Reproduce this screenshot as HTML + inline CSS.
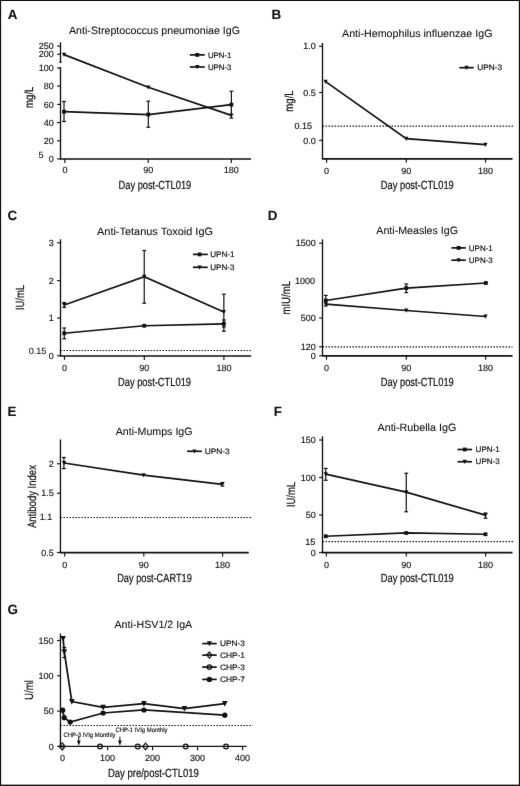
<!DOCTYPE html>
<html><head><meta charset="utf-8"><title>Figure</title>
<style>
html,body{margin:0;padding:0;background:#fff;}
body{width:520px;height:786px;overflow:hidden;position:relative;}
svg{position:absolute;left:0;top:0;}
svg text{text-rendering:geometricPrecision;font-family:"Liberation Sans", sans-serif;fill:#111;stroke:#111;stroke-width:0.08;}
</style></head><body>
<svg width="520" height="786" viewBox="0 0 520 786" stroke="#111" fill="#111">
<defs><filter id="bl" x="0" y="0" width="520" height="786" filterUnits="userSpaceOnUse" color-interpolation-filters="sRGB"><feConvolveMatrix order="3" kernelMatrix="0.00276 0.04704 0.00276 0.04704 0.80077 0.04704 0.00276 0.04704 0.00276" edgeMode="duplicate" preserveAlpha="true"/></filter></defs>
<g filter="url(#bl)">
<rect x="0" y="0" width="520" height="786" fill="#fff" stroke="none"/>
<text x="7.8" y="18.6" font-size="13.4" font-weight="bold" fill="#000">A</text>
<text x="69" y="33.7" font-size="10.6" textLength="171" lengthAdjust="spacingAndGlyphs">Anti-Streptococcus pneumoniae IgG</text>
<line x1="60.5" y1="42.3" x2="60.5" y2="62.2" stroke-width="1.35"/>
<line x1="59.2" y1="62.2" x2="61.8" y2="62.2" stroke-width="1.15"/>
<line x1="60.5" y1="67.1" x2="60.5" y2="159" stroke-width="1.35"/>
<line x1="59.83" y1="159" x2="251" y2="159" stroke-width="1.7"/>
<line x1="57.1" y1="46.1" x2="60.5" y2="46.1" stroke-width="1.15"/>
<text x="53.7" y="49.3" font-size="9" style="stroke-width:0.14" text-anchor="end">250</text>
<line x1="57.1" y1="54.3" x2="60.5" y2="54.3" stroke-width="1.15"/>
<text x="53.7" y="57.49" font-size="9" style="stroke-width:0.14" text-anchor="end">200</text>
<line x1="57.1" y1="68" x2="60.5" y2="68" stroke-width="1.15"/>
<text x="53.7" y="71.19" font-size="9" style="stroke-width:0.14" text-anchor="end">100</text>
<line x1="57.1" y1="86.1" x2="60.5" y2="86.1" stroke-width="1.15"/>
<text x="53.7" y="89.29" font-size="9" style="stroke-width:0.14" text-anchor="end">80</text>
<line x1="57.1" y1="104.4" x2="60.5" y2="104.4" stroke-width="1.15"/>
<text x="53.7" y="107.59" font-size="9" style="stroke-width:0.14" text-anchor="end">60</text>
<line x1="57.1" y1="122.6" x2="60.5" y2="122.6" stroke-width="1.15"/>
<text x="53.7" y="125.79" font-size="9" style="stroke-width:0.14" text-anchor="end">40</text>
<line x1="57.1" y1="140.8" x2="60.5" y2="140.8" stroke-width="1.15"/>
<text x="53.7" y="144" font-size="9" style="stroke-width:0.14" text-anchor="end">20</text>
<line x1="57.1" y1="159" x2="60.5" y2="159" stroke-width="1.15"/>
<text x="53.7" y="162.19" font-size="9" style="stroke-width:0.14" text-anchor="end">0</text>
<text x="41" y="157.79" font-size="9" text-anchor="middle">5</text>
<line x1="64.9" y1="159" x2="64.9" y2="162.9" stroke-width="1.15"/>
<text x="64.9" y="173.09" font-size="9" style="stroke-width:0.14" text-anchor="middle">0</text>
<line x1="148.2" y1="159" x2="148.2" y2="162.9" stroke-width="1.15"/>
<text x="148.2" y="173.09" font-size="9" style="stroke-width:0.14" text-anchor="middle">90</text>
<line x1="231.3" y1="159" x2="231.3" y2="162.9" stroke-width="1.15"/>
<text x="231.3" y="173.09" font-size="9" style="stroke-width:0.14" text-anchor="middle">180</text>
<text transform="translate(32.5 97.3) rotate(-90)" x="0" y="0" font-size="11.8" style="stroke-width:0.22" text-anchor="middle" textLength="21.4" lengthAdjust="spacingAndGlyphs">mg/L</text>
<text x="118.6" y="188.6" font-size="11.8" style="stroke-width:0.22" textLength="72.6" lengthAdjust="spacingAndGlyphs">Day post-CTL019</text>
<line x1="189.8" y1="54.9" x2="204.7" y2="54.9" stroke-width="1.7"/>
<rect x="195.35" y="53" width="3.8" height="3.8" fill="#111" stroke="none"/>
<text x="207.9" y="57.63" font-size="7.9" style="stroke-width:0.18" textLength="23.6" lengthAdjust="spacingAndGlyphs">UPN-1</text>
<line x1="189.8" y1="67" x2="204.7" y2="67" stroke-width="1.7"/>
<polygon points="195.15,65.11 199.35,65.11 197.25,69.31" fill="#111" stroke="none"/>
<text x="207.9" y="69.73" font-size="7.9" style="stroke-width:0.18" textLength="23.6" lengthAdjust="spacingAndGlyphs">UPN-3</text>
<line x1="64" y1="101.5" x2="64" y2="121.5" stroke-width="1.2"/>
<line x1="62.1" y1="101.5" x2="65.9" y2="101.5" stroke-width="1.2"/>
<line x1="62.1" y1="121.5" x2="65.9" y2="121.5" stroke-width="1.2"/>
<line x1="148.3" y1="101.2" x2="148.3" y2="127.3" stroke-width="1.2"/>
<line x1="146.4" y1="101.2" x2="150.2" y2="101.2" stroke-width="1.2"/>
<line x1="146.4" y1="127.3" x2="150.2" y2="127.3" stroke-width="1.2"/>
<line x1="231.4" y1="91.2" x2="231.4" y2="118.1" stroke-width="1.2"/>
<line x1="229.5" y1="91.2" x2="233.3" y2="91.2" stroke-width="1.2"/>
<line x1="229.5" y1="118.1" x2="233.3" y2="118.1" stroke-width="1.2"/>
<polyline points="64,111.7 148.3,114.5 231.4,104.6" fill="none" stroke-width="1.75" stroke-linejoin="miter"/>
<rect x="62.1" y="109.8" width="3.8" height="3.8" fill="#111" stroke="none"/>
<rect x="146.4" y="112.6" width="3.8" height="3.8" fill="#111" stroke="none"/>
<rect x="229.5" y="102.7" width="3.8" height="3.8" fill="#111" stroke="none"/>
<polyline points="64,54.6 148.3,87.3 231.4,115.4" fill="none" stroke-width="1.75" stroke-linejoin="miter"/>
<polygon points="61.9,52.71 66.1,52.71 64,56.91" fill="#111" stroke="none"/>
<polygon points="146.2,85.41 150.4,85.41 148.3,89.61" fill="#111" stroke="none"/>
<polygon points="229.3,113.51 233.5,113.51 231.4,117.71" fill="#111" stroke="none"/>
<text x="271.4" y="18.6" font-size="13.4" font-weight="bold" fill="#000">B</text>
<text x="342" y="37.3" font-size="10.6" textLength="150.5" lengthAdjust="spacingAndGlyphs">Anti-Hemophilus influenzae IgG</text>
<line x1="322.5" y1="43" x2="322.5" y2="158.9" stroke-width="1.35"/>
<line x1="321.82" y1="158.9" x2="512.5" y2="158.9" stroke-width="1.7"/>
<line x1="319.1" y1="46.25" x2="322.5" y2="46.25" stroke-width="1.15"/>
<text x="315.7" y="49.45" font-size="9" style="stroke-width:0.14" text-anchor="end">1.0</text>
<line x1="319.1" y1="92.5" x2="322.5" y2="92.5" stroke-width="1.15"/>
<text x="315.7" y="95.69" font-size="9" style="stroke-width:0.14" text-anchor="end">0.5</text>
<text x="312" y="129.44" font-size="9" style="stroke-width:0.14" text-anchor="end">0.15</text>
<line x1="319.1" y1="140.3" x2="322.5" y2="140.3" stroke-width="1.15"/>
<text x="315.7" y="143.5" font-size="9" style="stroke-width:0.14" text-anchor="end">0.0</text>
<line x1="322.5" y1="126.1" x2="513" y2="126.1" stroke-width="1.2" stroke-dasharray="1.5 1.5"/>
<line x1="326.6" y1="158.9" x2="326.6" y2="162.8" stroke-width="1.15"/>
<text x="326.6" y="174" font-size="9" style="stroke-width:0.14" text-anchor="middle">0</text>
<line x1="406.3" y1="158.9" x2="406.3" y2="162.8" stroke-width="1.15"/>
<text x="406.3" y="174" font-size="9" style="stroke-width:0.14" text-anchor="middle">90</text>
<line x1="485.6" y1="158.9" x2="485.6" y2="162.8" stroke-width="1.15"/>
<text x="485.6" y="174" font-size="9" style="stroke-width:0.14" text-anchor="middle">180</text>
<text transform="translate(293.4 101) rotate(-90)" x="0" y="0" font-size="11.8" style="stroke-width:0.22" text-anchor="middle" textLength="21.4" lengthAdjust="spacingAndGlyphs">mg/L</text>
<text x="380.8" y="188.7" font-size="11.8" style="stroke-width:0.22" textLength="73" lengthAdjust="spacingAndGlyphs">Day post-CTL019</text>
<line x1="459.3" y1="67.7" x2="473.75" y2="67.7" stroke-width="1.7"/>
<polygon points="464.42,65.81 468.62,65.81 466.52,70.01" fill="#111" stroke="none"/>
<text x="477.2" y="70.43" font-size="7.9" style="stroke-width:0.18" textLength="24.8" lengthAdjust="spacingAndGlyphs">UPN-3</text>
<polyline points="325.6,81.6 406.25,138.6 485.5,144.6" fill="none" stroke-width="1.75" stroke-linejoin="miter"/>
<polygon points="323.5,79.71 327.7,79.71 325.6,83.91" fill="#111" stroke="none"/>
<polygon points="404.15,136.71 408.35,136.71 406.25,140.91" fill="#111" stroke="none"/>
<polygon points="483.4,142.71 487.6,142.71 485.5,146.91" fill="#111" stroke="none"/>
<text x="7.6" y="219.6" font-size="13.4" font-weight="bold" fill="#000">C</text>
<text x="97" y="234.5" font-size="10.6" textLength="116" lengthAdjust="spacingAndGlyphs">Anti-Tetanus Toxoid IgG</text>
<line x1="60.5" y1="239.3" x2="60.5" y2="356" stroke-width="1.35"/>
<line x1="59.83" y1="356" x2="251.25" y2="356" stroke-width="1.7"/>
<line x1="57.1" y1="242.75" x2="60.5" y2="242.75" stroke-width="1.15"/>
<text x="53.7" y="245.94" font-size="9" style="stroke-width:0.14" text-anchor="end">3</text>
<line x1="57.1" y1="280.6" x2="60.5" y2="280.6" stroke-width="1.15"/>
<text x="53.7" y="283.8" font-size="9" style="stroke-width:0.14" text-anchor="end">2</text>
<line x1="57.1" y1="318.1" x2="60.5" y2="318.1" stroke-width="1.15"/>
<text x="53.7" y="321.3" font-size="9" style="stroke-width:0.14" text-anchor="end">1</text>
<line x1="57.1" y1="355.75" x2="60.5" y2="355.75" stroke-width="1.15"/>
<text x="53.7" y="358.94" font-size="9" style="stroke-width:0.14" text-anchor="end">0</text>
<text x="46.4" y="353.69" font-size="9" text-anchor="end">0.15</text>
<line x1="60.5" y1="350.5" x2="251.25" y2="350.5" stroke-width="1.2" stroke-dasharray="1.5 1.5"/>
<line x1="64.5" y1="356" x2="64.5" y2="359.9" stroke-width="1.15"/>
<text x="64.5" y="370.8" font-size="9" style="stroke-width:0.14" text-anchor="middle">0</text>
<line x1="144.3" y1="356" x2="144.3" y2="359.9" stroke-width="1.15"/>
<text x="144.3" y="370.8" font-size="9" style="stroke-width:0.14" text-anchor="middle">90</text>
<line x1="223.9" y1="356" x2="223.9" y2="359.9" stroke-width="1.15"/>
<text x="223.9" y="370.8" font-size="9" style="stroke-width:0.14" text-anchor="middle">180</text>
<text transform="translate(23.6 297.5) rotate(-90)" x="0" y="0" font-size="11.8" style="stroke-width:0.22" text-anchor="middle" textLength="25" lengthAdjust="spacingAndGlyphs">IU/mL</text>
<text x="118" y="386" font-size="11.8" style="stroke-width:0.22" textLength="73" lengthAdjust="spacingAndGlyphs">Day post-CTL019</text>
<line x1="192.9" y1="254.4" x2="207.8" y2="254.4" stroke-width="1.7"/>
<rect x="197.7" y="252.5" width="3.8" height="3.8" fill="#111" stroke="none"/>
<text x="210.2" y="257.13" font-size="7.9" style="stroke-width:0.18" textLength="24.2" lengthAdjust="spacingAndGlyphs">UPN-1</text>
<line x1="192.9" y1="267.3" x2="207.8" y2="267.3" stroke-width="1.7"/>
<polygon points="197.5,265.41 201.7,265.41 199.6,269.61" fill="#111" stroke="none"/>
<text x="210.2" y="270.03" font-size="7.9" style="stroke-width:0.18" textLength="24.2" lengthAdjust="spacingAndGlyphs">UPN-3</text>
<line x1="64.25" y1="328" x2="64.25" y2="338.75" stroke-width="1.2"/>
<line x1="62.35" y1="328" x2="66.15" y2="328" stroke-width="1.2"/>
<line x1="62.35" y1="338.75" x2="66.15" y2="338.75" stroke-width="1.2"/>
<line x1="64.25" y1="302.5" x2="64.25" y2="307.5" stroke-width="1.2"/>
<line x1="62.35" y1="302.5" x2="66.15" y2="302.5" stroke-width="1.2"/>
<line x1="62.35" y1="307.5" x2="66.15" y2="307.5" stroke-width="1.2"/>
<line x1="144.25" y1="250.5" x2="144.25" y2="303.25" stroke-width="1.2"/>
<line x1="142.35" y1="250.5" x2="146.15" y2="250.5" stroke-width="1.2"/>
<line x1="142.35" y1="303.25" x2="146.15" y2="303.25" stroke-width="1.2"/>
<line x1="223.85" y1="294.2" x2="223.85" y2="331.2" stroke-width="1.2"/>
<line x1="221.95" y1="294.2" x2="225.75" y2="294.2" stroke-width="1.2"/>
<line x1="221.95" y1="331.2" x2="225.75" y2="331.2" stroke-width="1.2"/>
<line x1="223.85" y1="320" x2="223.85" y2="327" stroke-width="1.2"/>
<line x1="221.95" y1="320" x2="225.75" y2="320" stroke-width="1.2"/>
<line x1="221.95" y1="327" x2="225.75" y2="327" stroke-width="1.2"/>
<polyline points="64.25,333.25 144.25,325.75 223.85,323.8" fill="none" stroke-width="1.75" stroke-linejoin="miter"/>
<polyline points="64.25,305 144.25,276.75 223.85,312" fill="none" stroke-width="1.75" stroke-linejoin="miter"/>
<rect x="62.35" y="331.35" width="3.8" height="3.8" fill="#111" stroke="none"/>
<rect x="142.35" y="323.85" width="3.8" height="3.8" fill="#111" stroke="none"/>
<rect x="221.95" y="321.9" width="3.8" height="3.8" fill="#111" stroke="none"/>
<polygon points="62.15,303.11 66.35,303.11 64.25,307.31" fill="#111" stroke="none"/>
<polygon points="142.15,274.86 146.35,274.86 144.25,279.06" fill="#111" stroke="none"/>
<polygon points="221.75,310.11 225.95,310.11 223.85,314.31" fill="#111" stroke="none"/>
<text x="267.8" y="219.6" font-size="13.4" font-weight="bold" fill="#000">D</text>
<text x="376.3" y="234.3" font-size="10.6" textLength="81.7" lengthAdjust="spacingAndGlyphs">Anti-Measles IgG</text>
<line x1="322.5" y1="239.3" x2="322.5" y2="355.9" stroke-width="1.35"/>
<line x1="321.82" y1="355.9" x2="512.5" y2="355.9" stroke-width="1.7"/>
<line x1="319.1" y1="243.25" x2="322.5" y2="243.25" stroke-width="1.15"/>
<text x="315.7" y="246.44" font-size="9" style="stroke-width:0.14" text-anchor="end">1500</text>
<text x="315.1" y="283.8" font-size="9" style="stroke-width:0.14" text-anchor="end">1000</text>
<line x1="319.1" y1="318" x2="322.5" y2="318" stroke-width="1.15"/>
<text x="315.7" y="321.19" font-size="9" style="stroke-width:0.14" text-anchor="end">500</text>
<line x1="319.1" y1="346.75" x2="322.5" y2="346.75" stroke-width="1.15"/>
<text x="315.7" y="349.94" font-size="9" style="stroke-width:0.14" text-anchor="end">120</text>
<line x1="319.1" y1="355.75" x2="322.5" y2="355.75" stroke-width="1.15"/>
<text x="315.7" y="358.94" font-size="9" style="stroke-width:0.14" text-anchor="end">0</text>
<line x1="322.5" y1="346.9" x2="512.5" y2="346.9" stroke-width="1.2" stroke-dasharray="1.5 1.5"/>
<line x1="326.5" y1="355.9" x2="326.5" y2="359.8" stroke-width="1.15"/>
<text x="326.5" y="370.8" font-size="9" style="stroke-width:0.14" text-anchor="middle">0</text>
<line x1="406.3" y1="355.9" x2="406.3" y2="359.8" stroke-width="1.15"/>
<text x="406.3" y="370.8" font-size="9" style="stroke-width:0.14" text-anchor="middle">90</text>
<line x1="485.6" y1="355.9" x2="485.6" y2="359.8" stroke-width="1.15"/>
<text x="485.6" y="370.8" font-size="9" style="stroke-width:0.14" text-anchor="middle">180</text>
<text transform="translate(290 297.8) rotate(-90)" x="0" y="0" font-size="11.8" style="stroke-width:0.22" text-anchor="middle" textLength="33.6" lengthAdjust="spacingAndGlyphs">mIU/mL</text>
<text x="380.8" y="385.8" font-size="11.8" style="stroke-width:0.22" textLength="73" lengthAdjust="spacingAndGlyphs">Day post-CTL019</text>
<line x1="451.4" y1="247.9" x2="465.8" y2="247.9" stroke-width="1.7"/>
<rect x="456.7" y="246" width="3.8" height="3.8" fill="#111" stroke="none"/>
<text x="468.8" y="250.63" font-size="7.9" style="stroke-width:0.18" textLength="24" lengthAdjust="spacingAndGlyphs">UPN-1</text>
<line x1="451.4" y1="260.2" x2="465.8" y2="260.2" stroke-width="1.7"/>
<polygon points="456.5,258.31 460.7,258.31 458.6,262.51" fill="#111" stroke="none"/>
<text x="468.8" y="262.93" font-size="7.9" style="stroke-width:0.18" textLength="24" lengthAdjust="spacingAndGlyphs">UPN-3</text>
<line x1="325.8" y1="295.4" x2="325.8" y2="306" stroke-width="1.2"/>
<line x1="323.9" y1="295.4" x2="327.7" y2="295.4" stroke-width="1.2"/>
<line x1="323.9" y1="306" x2="327.7" y2="306" stroke-width="1.2"/>
<line x1="406.25" y1="284" x2="406.25" y2="292.6" stroke-width="1.2"/>
<line x1="404.35" y1="284" x2="408.15" y2="284" stroke-width="1.2"/>
<line x1="404.35" y1="292.6" x2="408.15" y2="292.6" stroke-width="1.2"/>
<polyline points="325.8,300.5 406.25,288.1 485.9,283" fill="none" stroke-width="1.75" stroke-linejoin="miter"/>
<polyline points="325.8,304.2 406.25,310.5 485.5,316.5" fill="none" stroke-width="1.75" stroke-linejoin="miter"/>
<rect x="323.9" y="298.6" width="3.8" height="3.8" fill="#111" stroke="none"/>
<rect x="404.35" y="286.2" width="3.8" height="3.8" fill="#111" stroke="none"/>
<rect x="484" y="281.1" width="3.8" height="3.8" fill="#111" stroke="none"/>
<polygon points="323.7,302.31 327.9,302.31 325.8,306.51" fill="#111" stroke="none"/>
<polygon points="404.15,308.61 408.35,308.61 406.25,312.81" fill="#111" stroke="none"/>
<polygon points="483.4,314.61 487.6,314.61 485.5,318.81" fill="#111" stroke="none"/>
<text x="7.6" y="416.4" font-size="13.4" font-weight="bold" fill="#000">E</text>
<text x="115.75" y="434.5" font-size="10.6" textLength="76.75" lengthAdjust="spacingAndGlyphs">Anti-Mumps IgG</text>
<line x1="60.45" y1="439.5" x2="60.45" y2="552.6" stroke-width="1.35"/>
<line x1="59.78" y1="552.6" x2="248.75" y2="552.6" stroke-width="1.7"/>
<line x1="57.05" y1="463.75" x2="60.45" y2="463.75" stroke-width="1.15"/>
<text x="53.65" y="466.94" font-size="9" style="stroke-width:0.14" text-anchor="end">2</text>
<line x1="57.05" y1="493.25" x2="60.45" y2="493.25" stroke-width="1.15"/>
<text x="53.65" y="496.44" font-size="9" style="stroke-width:0.14" text-anchor="end">1.5</text>
<text x="52.3" y="520.2" font-size="9" style="stroke-width:0.14" text-anchor="end">1.1</text>
<line x1="57.05" y1="552.5" x2="60.45" y2="552.5" stroke-width="1.15"/>
<text x="53.65" y="555.7" font-size="9" style="stroke-width:0.14" text-anchor="end">0.5</text>
<line x1="60.45" y1="517.5" x2="251.25" y2="517.5" stroke-width="1.2" stroke-dasharray="1.5 1.5"/>
<line x1="64.7" y1="552.6" x2="64.7" y2="556.5" stroke-width="1.15"/>
<text x="64.7" y="567.8" font-size="9" style="stroke-width:0.14" text-anchor="middle">0</text>
<line x1="143.8" y1="552.6" x2="143.8" y2="556.5" stroke-width="1.15"/>
<text x="143.8" y="567.8" font-size="9" style="stroke-width:0.14" text-anchor="middle">90</text>
<line x1="222.6" y1="552.6" x2="222.6" y2="556.5" stroke-width="1.15"/>
<text x="222.6" y="567.8" font-size="9" style="stroke-width:0.14" text-anchor="middle">180</text>
<text transform="translate(36.2 496.6) rotate(-90)" x="0" y="0" font-size="11.8" style="stroke-width:0.22" text-anchor="middle" textLength="63" lengthAdjust="spacingAndGlyphs">Antibody Index</text>
<text x="117.2" y="582" font-size="11.8" style="stroke-width:0.22" textLength="74.6" lengthAdjust="spacingAndGlyphs">Day post-CART19</text>
<line x1="187.1" y1="451.3" x2="201.8" y2="451.3" stroke-width="1.7"/>
<polygon points="192.35,449.41 196.55,449.41 194.45,453.61" fill="#111" stroke="none"/>
<text x="204.7" y="454.03" font-size="7.9" style="stroke-width:0.18" textLength="25" lengthAdjust="spacingAndGlyphs">UPN-3</text>
<line x1="63.9" y1="457.5" x2="63.9" y2="468.6" stroke-width="1.2"/>
<line x1="62" y1="457.5" x2="65.8" y2="457.5" stroke-width="1.2"/>
<line x1="62" y1="468.6" x2="65.8" y2="468.6" stroke-width="1.2"/>
<line x1="222.4" y1="482.5" x2="222.4" y2="486.1" stroke-width="1.2"/>
<line x1="220.5" y1="482.5" x2="224.3" y2="482.5" stroke-width="1.2"/>
<line x1="220.5" y1="486.1" x2="224.3" y2="486.1" stroke-width="1.2"/>
<polyline points="64,463 143.6,475.2 222.4,484.3" fill="none" stroke-width="1.75" stroke-linejoin="miter"/>
<polygon points="61.9,461.11 66.1,461.11 64,465.31" fill="#111" stroke="none"/>
<polygon points="141.5,473.31 145.7,473.31 143.6,477.51" fill="#111" stroke="none"/>
<polygon points="220.3,482.41 224.5,482.41 222.4,486.61" fill="#111" stroke="none"/>
<text x="273.8" y="416.4" font-size="13.4" font-weight="bold" fill="#000">F</text>
<text x="377.5" y="431.3" font-size="10.6" textLength="78.75" lengthAdjust="spacingAndGlyphs">Anti-Rubella IgG</text>
<line x1="322.5" y1="436.25" x2="322.5" y2="552.6" stroke-width="1.35"/>
<line x1="321.82" y1="552.6" x2="512.5" y2="552.6" stroke-width="1.7"/>
<line x1="319.1" y1="440" x2="322.5" y2="440" stroke-width="1.15"/>
<text x="315.7" y="443.19" font-size="9" style="stroke-width:0.14" text-anchor="end">150</text>
<line x1="319.1" y1="477.5" x2="322.5" y2="477.5" stroke-width="1.15"/>
<text x="315.7" y="480.69" font-size="9" style="stroke-width:0.14" text-anchor="end">100</text>
<line x1="319.1" y1="515" x2="322.5" y2="515" stroke-width="1.15"/>
<text x="315.7" y="518.2" font-size="9" style="stroke-width:0.14" text-anchor="end">50</text>
<text x="315.3" y="544.7" font-size="9" style="stroke-width:0.14" text-anchor="end">15</text>
<line x1="319.1" y1="552.5" x2="322.5" y2="552.5" stroke-width="1.15"/>
<text x="315.7" y="555.7" font-size="9" style="stroke-width:0.14" text-anchor="end">0</text>
<line x1="322.5" y1="541.6" x2="513.75" y2="541.6" stroke-width="1.2" stroke-dasharray="1.5 1.5"/>
<line x1="326.4" y1="552.6" x2="326.4" y2="556.5" stroke-width="1.15"/>
<text x="326.4" y="567.8" font-size="9" style="stroke-width:0.14" text-anchor="middle">0</text>
<line x1="406.3" y1="552.6" x2="406.3" y2="556.5" stroke-width="1.15"/>
<text x="406.3" y="567.8" font-size="9" style="stroke-width:0.14" text-anchor="middle">90</text>
<line x1="485.6" y1="552.6" x2="485.6" y2="556.5" stroke-width="1.15"/>
<text x="485.6" y="567.8" font-size="9" style="stroke-width:0.14" text-anchor="middle">180</text>
<text transform="translate(295 494.5) rotate(-90)" x="0" y="0" font-size="11.8" style="stroke-width:0.22" text-anchor="middle" textLength="25" lengthAdjust="spacingAndGlyphs">IU/mL</text>
<text x="380.8" y="582" font-size="11.8" style="stroke-width:0.22" textLength="73" lengthAdjust="spacingAndGlyphs">Day post-CTL019</text>
<line x1="457.5" y1="449.5" x2="472" y2="449.5" stroke-width="1.7"/>
<rect x="462.85" y="447.6" width="3.8" height="3.8" fill="#111" stroke="none"/>
<text x="475.6" y="452.23" font-size="7.9" style="stroke-width:0.18" textLength="24.2" lengthAdjust="spacingAndGlyphs">UPN-1</text>
<line x1="457.5" y1="461.75" x2="472" y2="461.75" stroke-width="1.7"/>
<polygon points="462.65,459.86 466.85,459.86 464.75,464.06" fill="#111" stroke="none"/>
<text x="475.6" y="464.48" font-size="7.9" style="stroke-width:0.18" textLength="24.2" lengthAdjust="spacingAndGlyphs">UPN-3</text>
<line x1="325.75" y1="468.4" x2="325.75" y2="480.3" stroke-width="1.2"/>
<line x1="323.85" y1="468.4" x2="327.65" y2="468.4" stroke-width="1.2"/>
<line x1="323.85" y1="480.3" x2="327.65" y2="480.3" stroke-width="1.2"/>
<line x1="406.25" y1="473.25" x2="406.25" y2="511.75" stroke-width="1.2"/>
<line x1="404.35" y1="473.25" x2="408.15" y2="473.25" stroke-width="1.2"/>
<line x1="404.35" y1="511.75" x2="408.15" y2="511.75" stroke-width="1.2"/>
<line x1="485.5" y1="513" x2="485.5" y2="518.25" stroke-width="1.2"/>
<line x1="483.6" y1="513" x2="487.4" y2="513" stroke-width="1.2"/>
<line x1="483.6" y1="518.25" x2="487.4" y2="518.25" stroke-width="1.2"/>
<polyline points="325.75,536.25 406.25,533 485.5,534.25" fill="none" stroke-width="1.75" stroke-linejoin="miter"/>
<polyline points="325.75,474.1 406.25,492.2 485.5,515.2" fill="none" stroke-width="1.75" stroke-linejoin="miter"/>
<rect x="323.85" y="534.35" width="3.8" height="3.8" fill="#111" stroke="none"/>
<rect x="404.35" y="531.1" width="3.8" height="3.8" fill="#111" stroke="none"/>
<rect x="483.6" y="532.35" width="3.8" height="3.8" fill="#111" stroke="none"/>
<polygon points="323.65,472.21 327.85,472.21 325.75,476.41" fill="#111" stroke="none"/>
<polygon points="404.15,490.31 408.35,490.31 406.25,494.51" fill="#111" stroke="none"/>
<polygon points="483.4,513.31 487.6,513.31 485.5,517.51" fill="#111" stroke="none"/>
<text x="7.4" y="613.8" font-size="13.4" font-weight="bold" fill="#000">G</text>
<text x="114.5" y="628.3" font-size="10.6" textLength="77.7" lengthAdjust="spacingAndGlyphs">Anti-HSV1/2 IgA</text>
<line x1="60.45" y1="633.5" x2="60.45" y2="746.45" stroke-width="1.35"/>
<line x1="59.78" y1="746.45" x2="246.6" y2="746.45" stroke-width="1.25"/>
<line x1="57.05" y1="640.5" x2="60.45" y2="640.5" stroke-width="1.15"/>
<text x="53.65" y="643.7" font-size="9" style="stroke-width:0.14" text-anchor="end">150</text>
<line x1="57.05" y1="675.75" x2="60.45" y2="675.75" stroke-width="1.15"/>
<text x="53.65" y="678.95" font-size="9" style="stroke-width:0.14" text-anchor="end">100</text>
<line x1="57.05" y1="711.1" x2="60.45" y2="711.1" stroke-width="1.15"/>
<text x="53.65" y="714.3" font-size="9" style="stroke-width:0.14" text-anchor="end">50</text>
<line x1="57.05" y1="746.4" x2="60.45" y2="746.4" stroke-width="1.15"/>
<text x="53.65" y="749.6" font-size="9" style="stroke-width:0.14" text-anchor="end">0</text>
<line x1="60.45" y1="725.5" x2="253" y2="725.5" stroke-width="1.2" stroke-dasharray="1.5 1.5"/>
<text x="62.6" y="761.2" font-size="9" style="stroke-width:0.14" text-anchor="middle">0</text>
<line x1="107.6" y1="746.45" x2="107.6" y2="750.35" stroke-width="1.15"/>
<text x="107.6" y="761.2" font-size="9" style="stroke-width:0.14" text-anchor="middle">100</text>
<line x1="152.6" y1="746.45" x2="152.6" y2="750.35" stroke-width="1.15"/>
<text x="152.6" y="761.2" font-size="9" style="stroke-width:0.14" text-anchor="middle">200</text>
<line x1="197.5" y1="746.45" x2="197.5" y2="750.35" stroke-width="1.15"/>
<text x="197.5" y="761.2" font-size="9" style="stroke-width:0.14" text-anchor="middle">300</text>
<line x1="242.6" y1="746.45" x2="242.6" y2="750.35" stroke-width="1.15"/>
<text x="242.6" y="761.2" font-size="9" style="stroke-width:0.14" text-anchor="middle">400</text>
<text transform="translate(33 690) rotate(-90)" x="0" y="0" font-size="11.8" style="stroke-width:0.22" text-anchor="middle" textLength="20" lengthAdjust="spacingAndGlyphs">U/ml</text>
<text x="107.9" y="777" font-size="11.8" style="stroke-width:0.22" textLength="91" lengthAdjust="spacingAndGlyphs">Day pre/post-CTL019</text>
<line x1="202.2" y1="643.6" x2="216.7" y2="643.6" stroke-width="1.7"/>
<polygon points="206.9,641.35 211.9,641.35 209.4,646.35" fill="#111" stroke="none"/>
<text x="219.9" y="646.33" font-size="7.9" style="stroke-width:0.18" textLength="25" lengthAdjust="spacingAndGlyphs">UPN-3</text>
<line x1="202.2" y1="655.1" x2="216.7" y2="655.1" stroke-width="1.7"/>
<polygon points="209.4,652.03 212,655.1 209.4,658.17 206.8,655.1" fill="none" stroke-width="1.2"/>
<text x="219.9" y="657.83" font-size="7.9" style="stroke-width:0.18" textLength="25" lengthAdjust="spacingAndGlyphs">CHP-1</text>
<line x1="202.2" y1="667.1" x2="216.7" y2="667.1" stroke-width="1.7"/>
<circle cx="209.4" cy="667.1" r="2.3" fill="none" stroke-width="1.2"/>
<text x="219.9" y="669.83" font-size="7.9" style="stroke-width:0.18" textLength="25" lengthAdjust="spacingAndGlyphs">CHP-3</text>
<line x1="202.2" y1="679.4" x2="216.7" y2="679.4" stroke-width="1.7"/>
<circle cx="209.4" cy="679.4" r="2.7" fill="#111" stroke="none"/>
<text x="219.9" y="682.13" font-size="7.9" style="stroke-width:0.18" textLength="25" lengthAdjust="spacingAndGlyphs">CHP-7</text>
<text x="63.4" y="736.7" font-size="6.3" style="stroke-width:0.15" textLength="52" lengthAdjust="spacingAndGlyphs">CHP-3 IVIg Monthly</text>
<text x="115.4" y="732.3" font-size="6.3" style="stroke-width:0.15" textLength="52" lengthAdjust="spacingAndGlyphs">CHP-1 IVIg Monthly</text>
<line x1="78.8" y1="736.6" x2="78.8" y2="742" stroke-width="1"/>
<polygon points="76.9,740.6 80.7,740.6 78.8,745.8" fill="#111" stroke="none"/>
<line x1="119.9" y1="736.6" x2="119.9" y2="742" stroke-width="1"/>
<polygon points="118,740.6 121.8,740.6 119.9,745.8" fill="#111" stroke="none"/>
<line x1="64.3" y1="647.5" x2="64.3" y2="657.6" stroke-width="1.2"/>
<line x1="62.4" y1="647.5" x2="66.2" y2="647.5" stroke-width="1.2"/>
<line x1="62.4" y1="657.6" x2="66.2" y2="657.6" stroke-width="1.2"/>
<polyline points="63.1,638.4 64.3,651.8 71.8,701.6 103.1,707.3 143.9,703.6 184.4,708.5 224.8,703.6" fill="none" stroke-width="1.75" stroke-linejoin="miter"/>
<polygon points="60.3,635.88 65.9,635.88 63.1,641.48" fill="#111" stroke="none"/>
<polygon points="61.5,649.28 67.1,649.28 64.3,654.88" fill="#111" stroke="none"/>
<polygon points="69,699.08 74.6,699.08 71.8,704.68" fill="#111" stroke="none"/>
<polygon points="100.3,704.78 105.9,704.78 103.1,710.38" fill="#111" stroke="none"/>
<polygon points="141.1,701.08 146.7,701.08 143.9,706.68" fill="#111" stroke="none"/>
<polygon points="181.6,705.98 187.2,705.98 184.4,711.58" fill="#111" stroke="none"/>
<polygon points="222,701.08 227.6,701.08 224.8,706.68" fill="#111" stroke="none"/>
<polyline points="62.7,710.2 64.2,717.7 70.2,722.1 103.1,713 143.9,710 224.8,715.2" fill="none" stroke-width="1.75" stroke-linejoin="miter"/>
<circle cx="62.7" cy="710.2" r="2.6" fill="#111" stroke="none"/>
<circle cx="64.2" cy="717.7" r="2.6" fill="#111" stroke="none"/>
<circle cx="70.2" cy="722.1" r="2.6" fill="#111" stroke="none"/>
<circle cx="103.1" cy="713" r="2.6" fill="#111" stroke="none"/>
<circle cx="143.9" cy="710" r="2.6" fill="#111" stroke="none"/>
<circle cx="224.8" cy="715.2" r="2.6" fill="#111" stroke="none"/>
<circle cx="62.3" cy="746.45" r="1.5" fill="none" stroke-width="0.9"/>
<polygon points="62.2,742.7 65.3,746.45 62.2,750.2 59.1,746.45" fill="none" stroke-width="1.05"/>
<circle cx="100" cy="746.45" r="2.4" fill="none" stroke-width="1.2"/>
<circle cx="137.7" cy="746.45" r="2.4" fill="none" stroke-width="1.2"/>
<circle cx="185.7" cy="746.45" r="2.4" fill="none" stroke-width="1.2"/>
<circle cx="226" cy="746.45" r="2.4" fill="none" stroke-width="1.2"/>
<polygon points="145.5,743.15 148.3,746.45 145.5,749.75 142.7,746.45" fill="none" stroke-width="1.2"/>
</g>
<g stroke="none" fill="#161616">
<rect x="0" y="0" width="1.15" height="786"/>
<rect x="0" y="0" width="520" height="1.05"/>
<rect x="518.8" y="0" width="1.2" height="786"/>
<rect x="0" y="784.6" width="520" height="1.4"/>
</g>
</svg>
</body></html>
